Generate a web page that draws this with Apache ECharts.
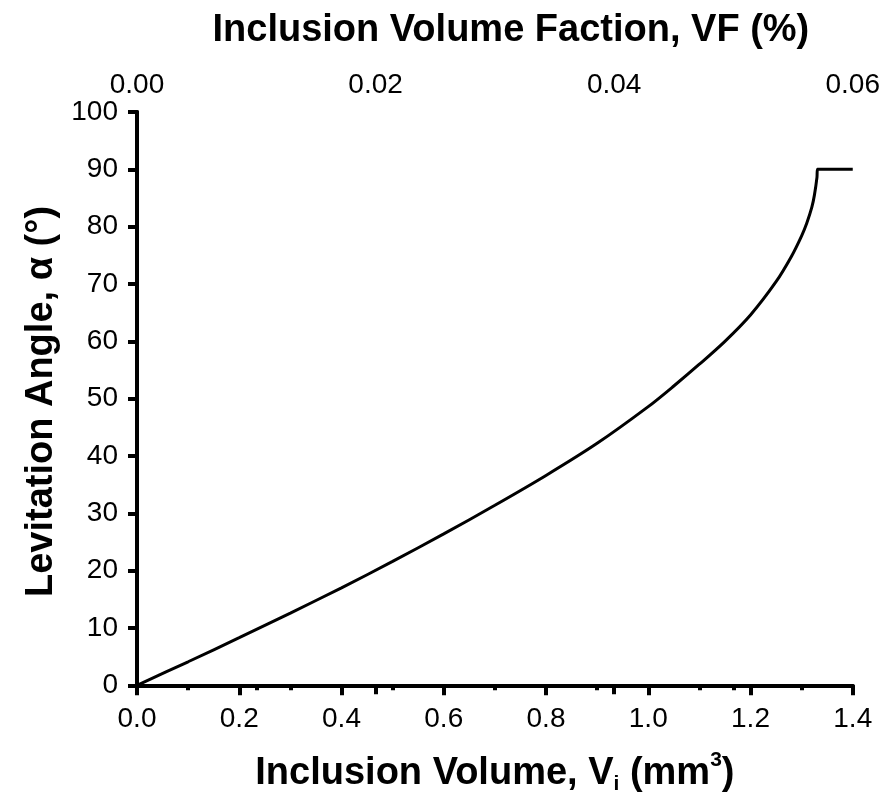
<!DOCTYPE html>
<html>
<head>
<meta charset="utf-8">
<script src="https://cdn.jsdelivr.net/npm/echarts@6/dist/echarts.min.js"></script>
<style>
  body { margin: 0; background: #fff; }
  #levChart { width: 883px; height: 802px; }
</style>
</head>
<body>
<div id="levChart"></div>
<script>
  // inclusion volume (mm3) and levitation angle (deg)
  var volume = [0, 0.1, 0.2, 0.3, 0.4, 0.5, 0.6, 0.7, 0.8, 0.9, 1.0, 1.05, 1.1, 1.15, 1.2, 1.25, 1.28, 1.3, 1.31, 1.32, 1.325, 1.33, 1.331, 1.4]
  var angle = [0, 4.1, 8.3, 12.6, 17.0, 21.6, 26.4, 31.4, 36.6, 42.2, 48.6, 52.2, 56.0, 60.0, 64.6, 70.4, 74.8, 78.4, 80.6, 83.4, 85.5, 88.6, 90, 90]
  var angleTicks = [0, 10, 20, 30, 40, 50, 60, 70, 80, 90, 100]

  var fontName = 'Liberation Sans, Arial, sans-serif'
  var points = []
  for (var i = 0; i < volume.length; i++) {
    points.push([volume[i], angle[i]])
  }

  var myChart = echarts.init(document.getElementById('levChart'))
  var myChartOption = {
    backgroundColor: '#fff',
    animation: false,
    grid: {
      left: 137,
      right: 30,
      top: 112,
      bottom: 111
    },
    xAxis: [{
      type: 'value',
      position: 'bottom',
      min: 0,
      max: 1.4,
      interval: 0.2,
      name: '{b|Inclusion Volume, V}{sub|i}{b| (mm}{sup|3}{b|)}',
      nameLocation: 'middle',
      nameGap: 59,
      nameTextStyle: {
        rich: {
          b: {fontFamily: fontName, fontWeight: 'bold', fontSize: 38, color: '#000'},
          sub: {fontFamily: fontName, fontWeight: 'bold', fontSize: 21, color: '#000', padding: [22, 0, 0, 0]},
          sup: {fontFamily: fontName, fontWeight: 'bold', fontSize: 21, color: '#000', padding: [0, 0, 26, 0]}
        }
      },
      axisLine: {lineStyle: {color: '#000', width: 4}},
      axisTick: {length: 10, lineStyle: {color: '#000', width: 4}},
      minorTick: {show: true, splitNumber: 2, length: 5, lineStyle: {color: '#000', width: 4}},
      splitLine: {show: false},
      axisLabel: {
        color: '#000',
        fontFamily: fontName,
        fontSize: 28,
        margin: 14,
        formatter: function (v) {
          return v.toFixed(1)
        }
      }
    }, {
      type: 'value',
      position: 'top',
      min: 0,
      max: 0.06,
      interval: 0.02,
      name: 'Inclusion Volume Faction, VF (%)',
      nameLocation: 'middle',
      nameGap: 62,
      nameTextStyle: {fontFamily: fontName, fontWeight: 'bold', fontSize: 38, color: '#000', padding: [0, 0, 0, 32]},
      axisLine: {lineStyle: {color: '#000', width: 4}},
      axisTick: {inside: true, length: 9, lineStyle: {color: '#000', width: 4}},
      minorTick: {show: true, splitNumber: 2, length: 5, lineStyle: {color: '#000', width: 4}},
      splitLine: {show: false},
      axisLabel: {
        color: '#000',
        fontFamily: fontName,
        fontSize: 28,
        margin: 13,
        formatter: function (v) {
          return v.toFixed(2)
        }
      }
    }],
    yAxis: [{
      type: 'value',
      position: 'left',
      min: -1,
      max: 100,
      name: 'Levitation Angle, α (°)',
      nameLocation: 'middle',
      nameGap: 74,
      nameTextStyle: {fontFamily: fontName, fontWeight: 'bold', fontSize: 38, color: '#000'},
      axisLine: {show: true, lineStyle: {color: '#000', width: 4}},
      axisTick: {length: 9, customValues: angleTicks, lineStyle: {color: '#000', width: 4}},
      splitLine: {show: false},
      axisLabel: {
        color: '#000',
        fontFamily: fontName,
        fontSize: 28,
        margin: 19,
        customValues: angleTicks
      }
    }, {
      type: 'value',
      position: 'right',
      min: -1,
      max: 100,
      axisLine: {show: true, lineStyle: {color: '#000', width: 4}},
      axisTick: {show: false},
      axisLabel: {show: false},
      splitLine: {show: false}
    }],
    series: [{
      type: 'line',
      xAxisIndex: 0,
      yAxisIndex: 0,
      data: points,
      showSymbol: false,
      smooth: 0.3,
      lineStyle: {color: '#000', width: 3}
    }]
  }
  myChart.setOption(myChartOption)
</script>
</body>
</html>
